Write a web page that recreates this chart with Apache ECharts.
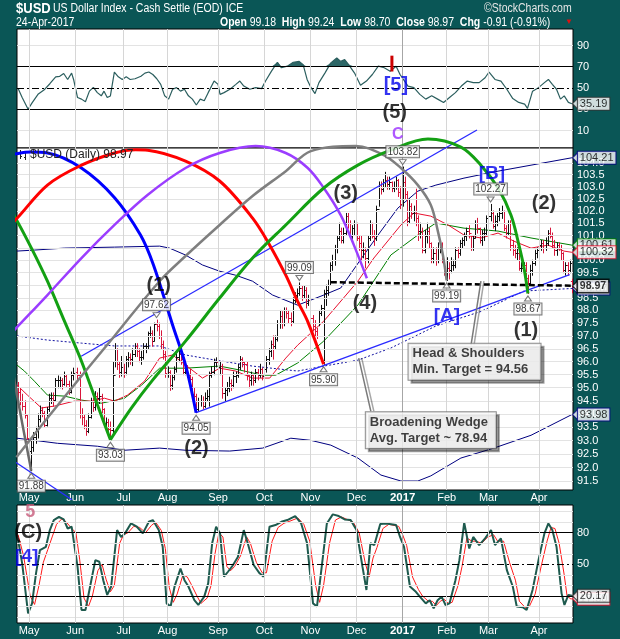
<!DOCTYPE html>
<html>
<head>
<meta charset="utf-8">
<script src="https://cdn.jsdelivr.net/npm/echarts@6/dist/echarts.min.js"></script>
<style>
  html, body { margin: 0; padding: 0; background: #0a5656; }
  #chart { width: 620px; height: 639px; }
</style>
</head>
<body>
<div id="chart"></div>
<script>
// ---------- header values ----------
const ticker = '$USD';
const seriesTitle = 'US Dollar Index - Cash Settle (EOD) ICE';
const lastDateLabel = '24-Apr-2017';
const lastOpen = 99.18, lastHigh = 99.24, lastLow = 98.70, lastClose = 98.97;
const lastChg = -0.91, lastChgPct = -0.91;
const closeBeforeFirstBar = 95.10;

// ---------- daily bars: [high, low, close] ----------
const apr16 = [[95.2,94.6,94.85],[94.95,94.35,94.5],[94.75,94.15,94.3],[94.5,93.85,93.95],[93.95,92.95,93.1]];
const may16 = [[93.2,92.5,92.6],[93.1,91.88,92.75],[93.3,92.6,93.15],[93.5,92.9,93.35],[94.0,93.1,93.8],
  [94.3,93.7,94.15],[94.25,93.9,94.05],[94.1,93.5,93.6],[94.25,93.55,94.2],[94.75,94.1,94.6],
  [94.8,94.4,94.6],[94.8,94.3,94.55],[95.35,94.5,95.3],[95.45,95.0,95.3],[95.4,95.0,95.3],
  [95.35,94.95,95.15],[95.6,95.1,95.45],[95.5,95.05,95.15],[95.25,94.75,94.85],[95.6,94.8,95.5],[95.75,95.3,95.55]];
const jun16 = [[95.7,95.35,95.6],[95.75,95.3,95.5],[95.6,93.85,94.0],[94.2,93.6,93.9],[93.95,93.45,93.6],
  [93.75,93.2,93.35],[94.0,93.3,93.9],[94.6,93.85,94.5],[94.6,94.1,94.25],[94.85,94.15,94.7],
  [94.8,94.4,94.6],[95.0,94.4,94.7],[94.75,94.05,94.2],[94.2,93.55,93.65],[93.85,93.5,93.7],
  [93.8,93.3,93.45],[93.7,93.03,93.4],[96.0,93.2,95.5],[96.7,95.8,96.5],[96.5,95.7,95.9],
  [96.0,95.4,95.6],[96.2,95.45,95.8]];
const jul16 = [[95.9,95.4,95.6],[96.2,95.5,96.1],[96.35,95.8,96.2],[96.3,95.9,96.1],[96.5,95.85,96.3],
  [96.7,96.2,96.6],[96.7,96.2,96.4],[96.5,96.0,96.2],[96.4,95.9,96.2],[96.7,96.1,96.6],
  [96.7,96.35,96.6],[97.15,96.5,97.1],[97.35,96.95,97.1],[97.2,96.6,96.8],[97.5,96.8,97.45],
  [97.62,97.2,97.4],[97.5,96.9,97.0],[97.2,96.5,96.7],[96.8,96.1,96.3],[96.4,95.4,95.55]];
const aug16 = [[95.8,95.4,95.6],[95.65,94.9,95.1],[95.5,94.95,95.4],[95.8,95.3,95.7],[96.4,95.6,96.2],
  [96.45,96.0,96.3],[96.4,95.9,96.1],[96.15,95.5,95.6],[95.9,95.5,95.8],[95.85,95.4,95.5],
  [95.7,95.2,95.35],[95.4,94.6,94.75],[95.0,94.5,94.7],[94.75,94.05,94.2],[94.6,94.1,94.5],
  [94.7,94.3,94.5],[94.65,94.2,94.3],[94.8,94.25,94.6],[94.9,94.5,94.7],[95.6,94.3,95.5],
  [95.8,95.4,95.6],[96.1,95.5,96.0],[96.15,95.8,96.0]];
const sep16 = [[96.2,95.6,95.8],[96.0,95.5,95.85],[95.9,94.6,94.8],[95.0,94.5,94.9],[95.2,94.7,95.0],
  [95.4,94.85,95.2],[95.3,94.9,95.1],[95.6,95.0,95.45],[95.6,95.2,95.5],[95.9,95.4,95.8],
  [96.2,95.7,96.1],[96.15,95.8,96.0],[96.0,95.6,95.9],[96.0,95.3,95.5],[95.5,95.0,95.3],
  [95.6,95.1,95.5],[95.5,95.1,95.3],[95.7,95.2,95.6],[95.7,95.3,95.5],[95.9,95.4,95.7],[95.75,95.3,95.45]];
const oct16 = [[95.8,95.4,95.7],[96.2,95.6,96.1],[96.5,95.9,96.4],[96.8,96.2,96.7],[97.0,96.1,96.6],
  [97.0,96.5,96.9],[97.6,96.8,97.5],[98.0,97.3,97.8],[97.95,97.3,97.5],[98.1,97.4,98.0],
  [98.1,97.7,97.9],[98.0,97.5,97.7],[97.9,97.4,97.6],[98.5,97.5,98.4],[98.7,98.3,98.6],
  [98.85,98.4,98.7],[99.09,98.6,98.9],[98.95,98.4,98.6],[98.95,98.5,98.8],[98.9,98.1,98.3],[98.6,98.2,98.4]];
const nov16 = [[98.4,97.5,97.7],[97.8,97.2,97.4],[97.6,97.0,97.2],[97.3,96.9,97.0],[98.0,97.4,97.9],
  [98.2,97.8,98.1],[98.8,95.9,98.7],[99.0,98.2,98.8],[99.2,98.6,99.0],[99.9,99.0,99.8],
  [100.2,99.6,100.0],[100.6,99.8,100.5],[101.0,100.3,100.9],[101.5,100.8,101.2],[101.3,100.7,100.8],
  [101.3,100.7,101.1],[101.9,101.0,101.8],[101.9,101.3,101.5],[101.6,100.9,101.0],[101.4,100.8,101.3],[101.6,101.0,101.5]];
const dec16 = [[101.5,100.8,100.9],[101.0,100.4,100.7],[101.0,100.0,100.4],[100.7,100.1,100.4],[100.5,99.7,100.1],
  [101.0,99.9,100.9],[101.6,100.8,101.5],[101.5,100.9,101.0],[101.2,100.6,100.9],[102.2,100.8,102.1],
  [103.2,102.2,103.0],[103.2,102.7,102.9],[103.3,102.8,103.2],[103.6,103.0,103.3],[103.4,102.9,103.1],
  [103.4,102.9,103.2],[103.2,102.8,102.95],[103.2,102.8,103.0],[103.4,102.9,103.3],[103.3,102.6,102.8],[103.0,102.1,102.3]];
const jan17 = [[103.82,102.2,103.2],[103.4,102.5,102.7],[102.8,101.4,101.6],[102.5,101.5,102.2],[102.3,101.7,101.9],
  [102.2,101.6,101.9],[102.9,101.4,101.7],[101.8,100.8,101.2],[101.5,100.9,101.2],[101.3,100.3,100.4],
  [101.2,100.3,101.0],[101.5,100.7,101.2],[101.3,100.5,100.7],[100.7,99.9,100.1],[100.5,99.9,100.3],
  [100.5,99.8,100.0],[100.7,99.9,100.5],[100.8,100.3,100.6],[100.7,99.9,100.0],[100.0,99.4,99.5]];
const feb17 = [[100.1,99.19,99.7],[99.9,99.25,99.6],[100.1,99.5,99.8],[100.0,99.6,99.8],[100.5,99.7,100.4],
  [100.5,100.1,100.3],[100.8,100.2,100.7],[100.9,100.5,100.8],[101.1,100.6,101.0],[101.3,100.8,101.2],
  [101.4,100.9,101.1],[101.0,100.4,100.5],[101.0,100.4,100.9],[101.6,100.9,101.5],[101.7,101.1,101.3],
  [101.3,100.7,100.8],[101.2,100.6,101.1],[101.3,100.8,101.1],[101.8,101.0,101.7]];
const mar17 = [[101.9,101.3,101.8],[102.27,101.6,101.9],[102.0,101.3,101.4],[101.8,101.2,101.6],[101.9,101.4,101.8],
  [102.1,101.6,101.9],[102.2,101.7,102.0],[102.0,101.2,101.3],[101.4,100.9,101.1],[101.6,101.0,101.5],
  [101.6,100.4,100.6],[100.8,100.2,100.4],[100.6,100.1,100.3],[100.5,100.0,100.3],[100.4,99.6,99.7],
  [99.9,99.5,99.7],[99.9,99.4,99.8],[99.9,99.1,99.3],[99.4,98.67,99.1],[99.8,99.0,99.6],
  [100.0,99.4,99.9],[100.4,99.8,100.3],[100.5,100.1,100.4]];
const apr17 = [[100.8,100.2,100.6],[100.8,100.4,100.7],[100.8,100.3,100.5],[100.9,100.4,100.7],[101.2,100.6,101.1],
  [101.3,100.9,101.0],[101.1,100.5,100.6],[100.8,100.2,100.4],[100.7,100.2,100.6],[100.7,100.4,100.5],
  [100.6,100.0,100.3],[100.3,99.5,99.6],[99.9,99.4,99.8],[99.9,99.4,99.6],[100.0,99.5,99.9]];

// exchange holidays inside the range
const holidays = ['2016-05-30','2016-07-04','2016-09-05','2016-11-24','2016-12-26','2017-01-02','2017-01-16','2017-02-20'];

// ---------- overlays: [bar index, price] ----------
const maGreen = [[-0.5,95.87],[2.87,95.64],[7.43,95.25],[13.35,94.72],[21.09,94.68],[28.84,94.53],[37.9,94.41],[42.5,94.49],
  [48.4,94.6],[56.2,95.1],[64.4,95.75],[76.2,95.75],[91.7,95.83],[100.8,95.68],[111.3,95.48],[117.2,95.48],[127.2,95.95],
  [139.1,96.8],[154.6,98.21],[169.6,100.21],[181.9,101.02],[190.1,101.51],[202.9,101.3],[218.4,101.18],[233.4,100.9],[252,100.61]];
const maRed = [[-0.5,95.1],[4.24,94.72],[10.6,94.23],[16.5,94.3],[25.6,94.49],[33.4,94.49],[39.3,94.6],[43.9,94.49],
  [49.8,94.72],[57.5,95.25],[64.4,96.14],[70.3,96.26],[76.2,95.87],[83.9,95.37],[91.7,95.75],[99,95.64],[106.7,95.37],
  [114.5,95.37],[121.8,96.14],[127.2,96.64],[139.1,97.58],[154.6,99.16],[161.9,100.09],[174.2,101.43],[180.1,101.92],
  [187.8,101.79],[195.6,101.43],[202.9,101.02],[210.6,100.9],[218.4,101.1],[225.6,100.77],[233.4,100.49],[241.1,100.61],
  [248.4,100.37],[252,100.32]];
const upperBand = [[-0.5,100.37],[7.43,100.41],[21.09,100.49],[43.87,100.53],[64.37,100.57],[68.9,100.49],[76.2,100.21],
  [83.9,99.81],[91.7,99.56],[99,99.4],[106.7,99.16],[115.8,98.61],[127.2,98.21],[133.2,98.41],[139.1,98.61],[146.8,98.89],
  [157.3,100.21],[165.1,101.18],[172.8,102.12],[181.9,102.82],[190.1,103.07],[202.9,103.36],[218.4,103.65],[233.4,103.9],[252,104.21]];
const lowerBand = [[-0.5,93.09],[7.43,93.01],[17.9,92.9],[36.1,92.79],[48.4,92.64],[64.4,92.72],[76.2,92.64],[96.3,92.61],
  [111.3,92.72],[124.1,93.09],[133.2,93.01],[142.3,92.83],[154.6,92.35],[165.1,91.72],[174.2,91.5],[181.9,91.5],[187.8,91.69],
  [201.5,92.35],[216.5,92.72],[233.4,93.2],[252,93.98]];
const midBand = [[-0.5,97.0],[13.35,96.84],[28.84,96.72],[43.87,96.61],[64.37,96.61],[76.2,96.26],[89.9,96.06],[106.7,95.83],
  [127.2,95.64],[139.1,95.83],[154.6,96.06],[169.6,96.53],[190.1,97.39],[210.6,97.96],[230.2,98.77],[252,98.87]];

// cycle arcs
const blueArc = [[-8.06,104.24],[-1.7,104.36],[5.6,104.45],[13.4,104.41],[28.8,103.78],[43.9,102.55],[55.7,101.02],
  [61.6,99.81],[70.3,97.43],[76.2,95.87],[81,94.05]];
const redArc = [[-8.06,101.14],[-1.69,101.59],[13.35,103.07],[28.84,103.9],[43.87,104.41],[53.4,104.55],[59,104.53],
  [76.2,104.07],[91.7,103.24],[106.7,101.71],[114.5,100.61],[121.8,99.4],[127.2,98.36],[131.8,97.56],[139,95.9]];
const purpleArc = [[-8.06,96.64],[-1.69,97.23],[13.35,98.61],[28.84,100.09],[43.87,101.43],[58.9,102.66],[76.2,103.78],
  [91.7,104.41],[108.1,104.7],[121.8,104.41],[131.8,103.78],[139.1,102.95],[146.8,101.83],[152.8,100.61],[158.7,99.28]];
const grayArc = [[-0.77,92.38],[13.35,93.85],[28.84,95.45],[43.87,97.0],[64.37,99.16],[76.2,100.17],[91.7,101.43],
  [106.7,102.62],[121.8,103.65],[133.2,104.49],[153.7,104.7],[166.4,104.32],[174.2,103.78],[181.9,103.07],[187.8,102.25],
  [191,101.18],[193.3,100.21],[195,99.19]];
const darkGrayArc = [[-8.06,98.5],[-0.9,94.9],[6,91.88]];
const leftGreenArc = [[-8.06,102.66],[-1.69,101.79],[6.06,100.49],[13.35,99.16],[21.09,97.58],[28.84,96.02],[36.13,94.34],[42,93.03]];
const bigGreenArc = [[42,93.03],[51.6,94.23],[61.2,95.29],[76.2,96.8],[91.7,98.49],[106.7,100.09],[121.8,101.43],
  [139.1,102.95],[154.6,103.9],[169.6,104.53],[186.5,105.0],[201.5,104.66],[210.6,103.9],[218.4,102.95],[224.3,101.83],
  [227.9,100.61],[230.2,99.69],[232,98.67]];

// trend lines
const wedgeUpper = [[28.7,96.21],[208.8,105.38]];
const wedgeLower = [[81,94.05],[251,99.42]];
const channelLeft = [[-8.06,92.57],[24.5,90.81]];
const neckline = [[142.3,99.12],[252.5,98.98]];
const hsLeader = [[210.6,99.16],[206.1,96.64]];
const wedgeLeader = [[155,96.14],[160.5,94.11]];

// price flags at swing points
const flagLows = [[6,91.88],[42,93.03],[81,94.05],[139,95.90],[195,99.19],[232,98.67]];
const flagHighs = [[63,97.62],[128,99.09],[175,103.82],[215,102.27]];

// wave labels [index, value, text]
const waveBlack = [[64,99.0,'(1)'],[81.2,92.72,'(2)'],[149.1,102.74,'(3)'],[157.8,98.29,'(4)'],[239.3,102.29,'(2)'],[231.1,97.23,'(1)']];
const waveBlue = [[215.6,103.53,'[B]'],[195.1,97.78,'[A]']];
const rsiWaveLabels = [[171.9,52.5,'[5]','#0000ee'],[171.4,26.5,'(5)','#000000']];
const rsiC = [[172.8,6.0,'C']];
const rsiMark = [[170.1,80.4],[170.1,65.5]];
const stochLabels = [[5.5,100.1,'5','#c75b7a',18],[4.6,80.7,'(C)','#000000',20],[3.9,56.9,'[4]','#0000ee',19]];

const hsNote = [207.7, 96.70, 'Head & Shoulders', 'Min. Target = 94.56'];
const wedgeNote = [187.8, 94.07, 'Broadening Wedge', 'Avg. Target ~ 78.94'];

// ---------- indicators ----------
const rsi14 = [[0,49.4],[1.85,41],[4.55,30],[6.35,36],[9.05,44],[11.75,48],[14.45,54],[17.1,60.5],[18.95,61],[20.75,63.6],
  [22.55,58],[24.35,64],[25.25,58],[27.05,41],[28.85,39.5],[30.65,37],[32.45,47],[34.25,50.5],[36.05,45.6],[37.85,42.6],
  [39.1,47],[40.55,41],[42,42.5],[43.8,65],[45.6,60.5],[47.4,58],[49.2,60.5],[51,58],[53.2,58.7],[55.9,61],[57.7,64],
  [59.5,65],[61.3,62.7],[63.1,58.7],[64.9,53.4],[66.7,42.6],[68.5,39.5],[70.3,48.8],[72.1,50.3],[73.9,47],[75.7,48.8],
  [77.5,42.6],[79.3,39.5],[81.1,34],[82.9,39.5],[84.7,38],[86.5,45.6],[89.2,56.5],[91,53.4],[91.9,44],[93.7,45.6],
  [96.4,48.8],[99.1,53.4],[100.9,56.5],[102.7,51.8],[105.4,48.8],[108.1,50.3],[110.8,49.4],[112.6,56.5],[115.3,65.8],
  [118,74.2],[119.8,69],[122.5,70.5],[125.2,74.2],[127.9,75],[129.7,72],[131.5,58],[133.3,50.3],[135.1,44.7],[136.9,55],
  [139.6,64],[142.3,73.6],[145,78.2],[146.8,75],[148.6,76.7],[150.4,72],[153.1,64],[155.8,52.5],[158.5,56.5],[161.2,62.7],
  [163.9,70.5],[166.6,69],[169.3,65.8],[170.2,67.4],[172,70.5],[173.8,62.7],[177.4,51.8],[180.1,50.3],[182.8,44],
  [185.5,39.5],[188.2,42.6],[190.9,39.5],[193.6,36.4],[196.3,41],[199,45.6],[201.7,51.8],[204.4,56.5],[207.1,55],
  [209.8,55],[212.5,59.6],[214.3,65],[217,58],[219.7,56.5],[222.4,48.8],[225.1,40],[227.8,36.4],[230.5,34.8],[231.8,30.8],
  [234.1,47],[236.8,50.3],[239.5,55],[241.3,58],[243.1,53.4],[245,48.8],[246.8,39.5],[248.5,42.6],[250.4,36.4],[252,35.19]];
const stochK = [[0,73],[1.85,51],[4.55,3.6],[6.35,13],[8.15,41.5],[9.95,63.6],[12.65,66.7],[14.45,82.5],[16.25,92],[18.6,95],
  [20.75,92.6],[22.55,84],[24.35,85.7],[25.25,85.7],[27.05,47.8],[28.85,6.7],[30.65,6.7],[32.45,25.7],[35.15,54],[36.95,52.5],
  [38.75,35],[40.55,21],[42.35,29],[45.05,82.5],[46.85,76],[48.65,79.4],[51.35,88.8],[54.05,85.7],[56.75,79.4],[59.5,90.4],
  [61.3,92],[64,82.5],[65.8,66.7],[67.6,13],[69.4,10],[71.2,29],[73.9,46],[75.7,35],[77.5,29],[80.2,16],[82,11.5],[84.7,19.4],
  [86.5,32],[88.3,70],[90.1,85.7],[91.9,79.4],[93.7,38.3],[95.5,43],[97.3,47.8],[100,57],[102.7,82.5],[104.5,70],[107.2,49.4],
  [109.9,41.5],[111.7,38.3],[114.4,85.7],[117.1,87.3],[119.8,90.4],[122.5,92],[126.1,95.8],[128.8,88.8],[131.5,70],[134.2,13],
  [136,10],[137.8,41.5],[140.5,88.8],[143.2,97.4],[145.9,95.8],[148.6,92.6],[151.3,92],[154,82.5],[156.7,47.8],[158.5,25.7],
  [160.3,70],[162.1,68.3],[164.8,88.2],[167.5,88.8],[172,87.3],[173.8,76],[175.6,66.7],[178.3,29],[181,24],[182.8,19.4],
  [185.5,13],[187.3,16],[189.1,8.3],[190.9,16],[192.7,19.4],[194.5,11.5],[196.3,13],[199,35],[200.8,54],[203,89.5],[205.3,65],
  [207.1,76],[209.8,68.3],[212.5,74.6],[215.2,82.5],[217,68.3],[219.7,74.6],[222.4,44.6],[225.1,29],[226.9,10],[229.6,9.3],
  [231.4,6.7],[234.1,25.7],[236.8,54],[239.5,79.4],[241.3,88.8],[243.1,82.5],[245,66.7],[247.3,22.5],[248.6,11.5],[250.4,21],[252,20.17]];
const stochD = [[0,78],[2.5,58],[5.5,20],[7.5,12],[9.5,30],[11.5,52],[13.5,64],[15.5,76],[17.5,88],[19.8,93],[22,90],[24,85],
  [26.3,80],[28,55],[30,18],[32,10],[33.8,20],[36.3,44],[38.2,50],[40,36],[42,24],[43.8,30],[46.2,70],[48,78],[50,80],
  [52.6,86],[55.3,85],[58,80],[60.7,87],[62.6,90],[65.2,82],[67,65],[68.8,28],[70.6,14],[72.4,22],[75,40],[77,38],[78.8,31],
  [81.4,20],[83.2,13],[86,18],[87.8,30],[89.6,60],[91.4,80],[93.2,76],[95,48],[96.7,44],[98.5,48],[101.2,58],[104,76],
  [105.7,70],[108.4,52],[111.1,42],[113,42],[115.6,72],[118.3,85],[121,89],[123.7,91],[127.3,94],[130,88],[132.7,72],
  [135.4,30],[137.2,14],[139,30],[141.7,70],[144.4,92],[147.1,95],[149.8,92.5],[152.5,90],[155.2,80],[157.9,52],[159.7,38],
  [161.5,56],[163.3,66],[166,84],[168.7,88],[173.2,86],[175,78],[176.8,68],[179.5,38],[182.2,26],[184,20],[186.7,15],
  [188.5,15],[190.3,11],[192.1,15],[193.9,17],[195.7,13],[197.5,14],[200.2,30],[202,48],[204.2,75],[206.5,72],[208.3,72],
  [211,70],[213.7,76],[216.4,78],[218.2,72],[220.9,72],[223.6,52],[226.3,35],[228.1,15],[230.8,9],[232.6,10],[235.3,22],
  [238,48],[240.7,72],[242.5,85],[244.3,84],[246.2,70],[248.5,40],[249.8,20],[251.6,17],[252,17.5]];

// ---------- axis tick labels ----------
const priceTicks = [91.5,92.0,92.5,93.0,93.5,94.0,94.5,95.0,95.5,96.0,96.5,97.0,97.5,98.0,98.5,99.0,99.5,100.0,100.5,101.0,101.5,102.0,102.5,103.0,103.5,104.0];
const rsiTicks = [10,30,50,70,90];
const stochTicks = [20,50,80];
const monthNames = ['Jan','Feb','Mar','Apr','May','Jun','Jul','Aug','Sep','Oct','Nov','Dec'];

// ---------- build the trading calendar ----------
function tradingDays(startUTC, endUTC) {
  const out = [];
  for (let t = startUTC; t <= endUTC; t += 86400000) {
    const d = new Date(t);
    const wd = d.getUTCDay();
    const s = d.toISOString().slice(0, 10);
    if (wd !== 0 && wd !== 6 && holidays.indexOf(s) < 0) out.push(s);
  }
  return out;
}
const dates = tradingDays(Date.UTC(2016, 3, 25), Date.UTC(2017, 3, 24));
const monthStarts = [];
dates.forEach((d, i) => { if (i > 0 && d.slice(5, 7) !== dates[i - 1].slice(5, 7)) monthStarts.push(i); });
const monthStartSet = new Set(monthStarts);

// ---------- OHLC rows ----------
const hlc = [].concat(apr16, may16, jun16, jul16, aug16, sep16, oct16, nov16, dec16, jan17, feb17, mar17, apr17);
const ohlc = hlc.map((r, i) => [i, i === 0 ? closeBeforeFirstBar : hlc[i - 1][2], r[0], r[1], r[2]]);
ohlc.push([hlc.length, lastOpen, lastHigh, lastLow, lastClose]);
const N = dates.length;

// ---------- styling ----------
const SANS = "'Liberation Sans',Arial,sans-serif";
const TEAL = '#0a5656';
const GRIDC = '#e3e3e3';
const BAR_UP = '#111111', BAR_DN = '#d8173c';
const SQUEEZE = 0.84;   // header text is set condensed

function renderBar(params, api) {
  const i = api.value(0), o = api.value(1), h = api.value(2), l = api.value(3), c = api.value(4);
  const pt = api.coord([i, h]), pb = api.coord([i, l]), po = api.coord([i, o]), pc = api.coord([i, c]);
  const x = Math.round(pt[0]) + 0.5;
  const col = c < o ? BAR_DN : BAR_UP;
  const yo = Math.round(po[1]) + 0.5, yc = Math.round(pc[1]) + 0.5;
  const st = { stroke: col, lineWidth: 1 };
  return { type: 'group', children: [
    { type: 'line', shape: { x1: x, y1: pt[1] - 0.5, x2: x, y2: pb[1] + 0.5 }, style: st },
    { type: 'line', shape: { x1: x - 1.6, y1: yo, x2: x, y2: yo }, style: st },
    { type: 'line', shape: { x1: x, y1: yc, x2: x + 1.6, y2: yc }, style: st }
  ]};
}

function mainLine(data, color, width, z, extra) {
  return Object.assign({
    type: 'line', xAxisIndex: 3, yAxisIndex: 1, data: data, symbol: 'none', showSymbol: false,
    clip: false, silent: true, animation: false, z: z,
    lineStyle: { color: color, width: width }
  }, extra || {});
}

function gridLines(xi, yi, hLines) {
  const v = monthStarts.map(i => ({
    xAxis: i, label: { show: false },
    lineStyle: { color: dates[i].slice(5, 7) === '01' ? '#a6a6a6' : '#d6d6d6', width: 1, type: 'solid' }
  }));
  return {
    type: 'line', xAxisIndex: xi, yAxisIndex: yi, data: [], z: 1, silent: true, animation: false,
    markLine: { silent: true, symbol: ['none', 'none'], animation: false, data: hLines.concat(v) }
  };
}
function hLine(value, labelText, color, type, width) {
  return {
    yAxis: value,
    lineStyle: { color: color, width: width || 1, type: type || 'solid' },
    label: labelText ? { show: true, position: 'end', formatter: labelText, color: '#ffffff',
      fontFamily: SANS, fontSize: 11, distance: 4 } : { show: false }
  };
}

function tagSeries(xi, yi, value, border, z, bold) {
  return {
    type: 'scatter', xAxisIndex: xi, yAxisIndex: yi, z: z, silent: true, clip: false, animation: false,
    symbol: 'triangle', symbolRotate: 90, symbolSize: [10, 5], symbolOffset: [2, 0],
    itemStyle: { color: '#ffffff', borderColor: border, borderWidth: 1 },
    label: {
      show: true, position: 'right', distance: 0, formatter: value.toFixed(2),
      color: '#000000', fontFamily: SANS, fontSize: bold ? 10.5 : 11, fontWeight: bold ? 'bold' : 'normal',
      backgroundColor: '#ffffff', borderColor: border, borderWidth: bold ? 1.5 : 1,
      padding: [1, 2, 0, 2], lineHeight: 11
    },
    data: [[N - 0.5, value]]
  };
}

function flagSeries(points, below) {
  return {
    type: 'scatter', xAxisIndex: 3, yAxisIndex: 1, z: 14, silent: true, clip: false, animation: false,
    symbol: 'triangle', symbolSize: [7, 5], symbolRotate: below ? 0 : 180,
    symbolOffset: [0, below ? 5 : -5],
    itemStyle: { color: '#ffffff', borderColor: '#555555', borderWidth: 1 },
    data: points.map(p => ({ value: p, label: { formatter: p[1].toFixed(2) } })),
    label: {
      show: true, position: below ? 'bottom' : 'top', distance: 2,
      color: '#000000', fontFamily: SANS, fontSize: 10, lineHeight: 10,
      backgroundColor: '#ffffff', borderColor: '#555555', borderWidth: 1, padding: [1, 1, 0, 1]
    }
  };
}

function textSeries(xi, yi, items, style, z) {
  return {
    type: 'scatter', xAxisIndex: xi, yAxisIndex: yi, z: z || 13, silent: true, clip: false, animation: false,
    symbolSize: 0,
    data: items.map(t => ({ value: [t[0], t[1]], label: Object.assign({ formatter: t[2] },
      t[3] ? { color: t[3] } : {}, t[4] ? { fontSize: t[4] } : {}) })),
    label: Object.assign({ show: true, position: 'inside' }, style)
  };
}

function noteSeries(note, width) {
  return {
    type: 'scatter', xAxisIndex: 3, yAxisIndex: 1, z: 16, silent: true, clip: false, animation: false,
    symbolSize: 0,
    data: [{ value: [note[0], note[1]] }],
    label: {
      show: true, position: 'bottom', distance: 0,
      formatter: '{t|' + note[2] + '}\n{t|' + note[3] + '}',
      backgroundColor: '#ffffff', borderColor: '#707070', borderWidth: 1,
      shadowColor: 'rgba(0,0,0,0.45)', shadowOffsetX: 3, shadowOffsetY: 3, shadowBlur: 0,
      padding: [2, 4, 2, 4],
      rich: { t: { fontFamily: SANS, fontWeight: 'bold', fontSize: 13, color: '#111111', lineHeight: 16, width: width, align: 'left' } }
    }
  };
}

const rsiAbove = rsi14.map(p => [p[0], Math.max(p[1], 70)]);

const catAxis = (gridIndex, showLabels) => ({
  type: 'category', gridIndex: gridIndex, data: dates, boundaryGap: true,
  axisLine: { show: false }, axisTick: { show: false }, splitLine: { show: false },
  axisLabel: {
    show: showLabels, interval: (idx) => monthStartSet.has(idx), margin: 2,
    color: '#ffffff', fontFamily: SANS, fontSize: 11,
    formatter: (val) => {
      const m = +val.slice(5, 7);
      return m === 1 ? '{y|' + val.slice(0, 4) + '}' : monthNames[m - 1];
    },
    rich: { y: { fontWeight: 'bold', color: '#ffffff', fontFamily: SANS, fontSize: 11.5 } }
  }
});
const valAxisX = (gridIndex) => ({ type: 'value', gridIndex: gridIndex, min: -0.5, max: N - 0.5, show: false });

const hidden = { show: false };

const infoText = '{b|Open} ' + lastOpen.toFixed(2) + '  {b|High} ' + lastHigh.toFixed(2) + '  {b|Low} ' + lastLow.toFixed(2) +
  '  {b|Close} ' + lastClose.toFixed(2) + '  {b|Chg} ' + lastChg.toFixed(2) + ' (' + lastChgPct.toFixed(2) + '%)';

const option = {
  animation: false,
  backgroundColor: TEAL,
  textStyle: { fontFamily: SANS },
  grid: [
    { left: 17, top: 29, width: 556, height: 119, show: true, backgroundColor: '#ffffff', borderColor: '#000000', borderWidth: 1 },
    { left: 17, top: 148, width: 556, height: 342, show: true, backgroundColor: '#ffffff', borderColor: '#000000', borderWidth: 1 },
    { left: 17, top: 505, width: 556, height: 118, show: true, backgroundColor: '#ffffff', borderColor: '#000000', borderWidth: 1 }
  ],
  xAxis: [catAxis(0, false), valAxisX(0), catAxis(1, true), valAxisX(1), catAxis(2, true), valAxisX(2)],
  yAxis: [
    { type: 'value', gridIndex: 0, min: -6.5, max: 105.5, position: 'right', axisLabel: hidden, axisLine: hidden, axisTick: hidden, splitLine: hidden },
    { type: 'log', logBase: 10, gridIndex: 1, min: 91.17, max: 104.62, position: 'right', axisLabel: hidden, axisLine: hidden, axisTick: hidden, splitLine: hidden },
    { type: 'value', gridIndex: 2, min: -5.6, max: 106.3, position: 'right', axisLabel: hidden, axisLine: hidden, axisTick: hidden, splitLine: hidden }
  ],
  graphic: [
    { type: 'text', x: 16, y: 1, scaleX: SQUEEZE, style: { text: ticker, fill: '#ffffff', font: 'bold 15.5px ' + SANS } },
    { type: 'text', x: 53, y: 2, scaleX: SQUEEZE, style: { text: seriesTitle, fill: '#ffffff', font: '12.5px ' + SANS } },
    { type: 'text', x: 484, y: 2, scaleX: SQUEEZE, style: { text: '\u00a9StockCharts.com', fill: '#e6e6e6', font: '12.5px ' + SANS } },
    { type: 'text', x: 16, y: 16, scaleX: SQUEEZE, style: { text: lastDateLabel, fill: '#ffffff', font: '12.5px ' + SANS } },
    { type: 'text', x: 220, y: 16, scaleX: SQUEEZE, style: {
        text: infoText, fill: '#ffffff', font: '12.5px ' + SANS,
        rich: { b: { fontWeight: 'bold', fill: '#ffffff', fontFamily: SANS, fontSize: 12.5 } } } },
    { type: 'text', x: 565, y: 18, style: { text: '\u25bc', fill: '#e01010', font: '8px ' + SANS } },
    // legend of the price panel
    { type: 'group', x: 19, y: 150, children: [
      { type: 'line', shape: { x1: 1.5, y1: 0, x2: 1.5, y2: 9 }, style: { stroke: '#222', lineWidth: 1 } },
      { type: 'line', shape: { x1: 0, y1: 3.5, x2: 1.5, y2: 3.5 }, style: { stroke: '#222', lineWidth: 1 } },
      { type: 'line', shape: { x1: 1.5, y1: 6.5, x2: 3, y2: 6.5 }, style: { stroke: '#222', lineWidth: 1 } },
      { type: 'line', shape: { x1: 6.5, y1: 1, x2: 6.5, y2: 10 }, style: { stroke: '#222', lineWidth: 1 } },
      { type: 'line', shape: { x1: 5, y1: 7.5, x2: 6.5, y2: 7.5 }, style: { stroke: '#222', lineWidth: 1 } },
      { type: 'line', shape: { x1: 6.5, y1: 2.5, x2: 8, y2: 2.5 }, style: { stroke: '#222', lineWidth: 1 } }
    ] },
    { type: 'text', x: 30, y: 149, z: 100, style: { text: ticker + ' (Daily) ' + lastClose.toFixed(2), fill: '#222222', font: '12px ' + SANS } }
  ],
  series: [
    // ---- RSI panel ----
    gridLines(1, 0, [
      hLine(90, '90', GRIDC), hLine(70, '70', '#000000'), hLine(50, '50', '#000000', [7, 3, 2, 3]),
      hLine(30, '30', '#000000'), hLine(10, '10', GRIDC)
    ]),
    { type: 'line', xAxisIndex: 1, yAxisIndex: 0, data: rsiAbove, symbol: 'none', silent: true, z: 2,
      lineStyle: { width: 0 }, areaStyle: { origin: 70, color: '#2d6767', opacity: 1 } },
    { type: 'line', xAxisIndex: 1, yAxisIndex: 0, data: rsi14, symbol: 'none', silent: true, z: 3,
      lineStyle: { color: '#2b5e5e', width: 1.2 } },
    { type: 'line', xAxisIndex: 1, yAxisIndex: 0, data: rsiMark, symbol: 'none', silent: true, z: 6, clip: false,
      lineStyle: { color: '#cc0000', width: 3 } },
    textSeries(1, 0, rsiWaveLabels, { fontFamily: SANS, fontWeight: 'bold', fontSize: 20 }, 13),
    textSeries(1, 0, rsiC, { fontFamily: SANS, fontWeight: 'bold', fontSize: 16, color: '#9b30ff' }, 13),
    tagSeries(1, 0, rsi14[rsi14.length - 1][1], '#333333', 20, false),

    // ---- price panel ----
    gridLines(3, 1, priceTicks.map(p => hLine(p, p.toFixed(1), GRIDC))),
    mainLine(lowerBand, '#000080', 1, 2),
    mainLine(upperBand, '#000080', 1, 2),
    mainLine(midBand, '#1010a0', 1, 2, { lineStyle: { color: '#1010a0', width: 1, type: [2, 2] } }),
    mainLine(maGreen, '#008000', 1, 2),
    mainLine(maRed, '#e8102e', 1, 2),
    { type: 'custom', xAxisIndex: 3, yAxisIndex: 1, z: 3, silent: true, animation: false,
      encode: { x: 0, y: [1, 2, 3, 4] }, data: ohlc, renderItem: renderBar },
    mainLine(wedgeUpper, '#2a2aff', 1.3, 5),
    mainLine(wedgeLower, '#2a2aff', 1.3, 5),
    mainLine(channelLeft, '#2a2aff', 1.3, 5),
    mainLine(neckline, '#000000', 2.5, 5, { lineStyle: { color: '#000000', width: 2.5, type: [6, 3] } }),
    mainLine(darkGrayArc, '#6a6a6a', 2.5, 6, { smooth: 0.3 }),
    mainLine(leftGreenArc, '#13a013', 3, 6, { smooth: 0.3 }),
    mainLine(blueArc, '#0000ff', 3, 6, { smooth: 0.35 }),
    mainLine(redArc, '#ff0000', 3, 6, { smooth: 0.35 }),
    mainLine(purpleArc, '#9b3dff', 2.5, 6, { smooth: 0.35 }),
    mainLine(grayArc, '#7f7f7f', 2.5, 6, { smooth: 0.35 }),
    mainLine(bigGreenArc, '#13a013', 3, 7, { smooth: 0.35 }),
    mainLine(hsLeader, '#7a7a7a', 1.5, 8, { lineStyle: { color: '#7a7a7a', width: 1.5, shadowColor: 'rgba(0,0,0,0.35)', shadowOffsetX: 3, shadowBlur: 0 } }),
    mainLine(wedgeLeader, '#7a7a7a', 1.5, 8, { lineStyle: { color: '#7a7a7a', width: 1.5, shadowColor: 'rgba(0,0,0,0.35)', shadowOffsetX: 3, shadowBlur: 0 } }),
    flagSeries(flagLows, true),
    flagSeries(flagHighs, false),
    textSeries(3, 1, waveBlack, { fontFamily: SANS, fontWeight: 'bold', fontSize: 20, color: '#000000' }, 13),
    textSeries(3, 1, waveBlue, { fontFamily: SANS, fontWeight: 'bold', fontSize: 19, color: '#0000ee' }, 13),
    noteSeries(hsNote, 124),
    noteSeries(wedgeNote, 122),
    tagSeries(3, 1, upperBand[upperBand.length - 1][1], '#000080', 20, false),
    tagSeries(3, 1, maGreen[maGreen.length - 1][1], '#008000', 20, false),
    tagSeries(3, 1, maRed[maRed.length - 1][1], '#e8102e', 21, false),
    tagSeries(3, 1, midBand[midBand.length - 1][1], '#000080', 20, false),
    tagSeries(3, 1, lastClose, '#000000', 22, true),
    tagSeries(3, 1, lowerBand[lowerBand.length - 1][1], '#000080', 20, false),

    // ---- stochastic panel ----
    gridLines(5, 2, [
      hLine(100, null, GRIDC), hLine(90, null, GRIDC), hLine(80, '80', '#000000'), hLine(70, null, GRIDC),
      hLine(60, null, GRIDC), hLine(50, '50', '#000000', [7, 3, 2, 3]), hLine(40, null, GRIDC),
      hLine(30, null, GRIDC), hLine(20, '20', '#000000'), hLine(10, null, GRIDC), hLine(0, null, GRIDC)
    ]),
    { type: 'line', xAxisIndex: 5, yAxisIndex: 2, data: stochD, symbol: 'none', silent: true, z: 3,
      lineStyle: { color: '#ff1a1a', width: 1 } },
    { type: 'line', xAxisIndex: 5, yAxisIndex: 2, data: stochK, symbol: 'none', silent: true, z: 4,
      lineStyle: { color: '#1e5a4e', width: 2 } },
    textSeries(5, 2, stochLabels, { fontFamily: SANS, fontWeight: 'bold', fontSize: 20 }, 13),
    tagSeries(5, 2, stochD[stochD.length - 1][1], '#e8102e', 20, false),
    tagSeries(5, 2, stochK[stochK.length - 1][1], '#222222', 21, false)
  ]
};

const chart = echarts.init(document.getElementById('chart'), null, { width: 620, height: 639, renderer: 'canvas' });
chart.setOption(option);
</script>
</body>
</html>
